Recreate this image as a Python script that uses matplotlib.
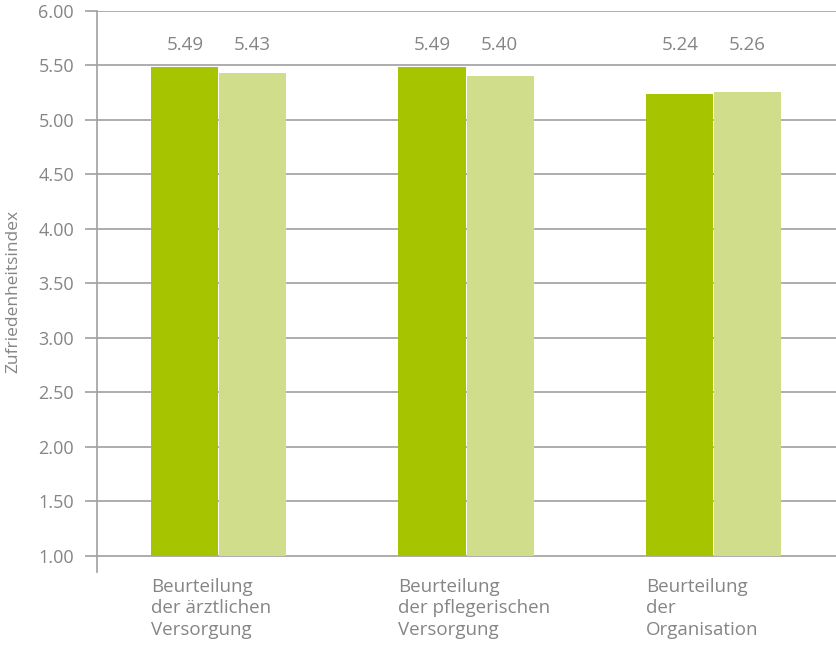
import matplotlib.pyplot as plt
import numpy as np

# Data
categories = ['Beurteilung\nder ärztlichen\nVersorgung',
              'Beurteilung\nder pflegerischen\nVersorgung',
              'Beurteilung\nder\nOrganisation']
series_a = [5.49, 5.49, 5.24]
series_b = [5.43, 5.40, 5.26]
yticks = [1.0, 1.5, 2.0, 2.5, 3.0, 3.5, 4.0, 4.5, 5.0, 5.5, 6.0]

plt.rcParams['font.family'] = ['Open Sans', 'DejaVu Sans']
gray = '#858585'
dark = '#A6C400'
light = '#D0DD8A'

fig = plt.figure(figsize=(8.36, 6.46), dpi=100)
ax = fig.add_axes([97 / 836, 1 - 572 / 646, 1 - 97 / 836, (572 - 11) / 646])

x = np.arange(len(categories))
w = 0.271
base = 1.0
ax.bar(x - w / 2 - 0.002, np.array(series_a) - base, w, bottom=base, color=dark, zorder=3)
ax.bar(x + w / 2 + 0.002, np.array(series_b) - base, w, bottom=base, color=light, zorder=3)

# value labels
for xi, a, b in zip(x, series_a, series_b):
    ax.text(xi - w / 2, 5.69, f'{a:.2f}', ha='center', va='center', color=gray, fontsize=13.5)
    ax.text(xi + w / 2, 5.69, f'{b:.2f}', ha='center', va='center', color=gray, fontsize=13.5)

ax.set_xlim(-0.491, 2.495)
ax.set_ylim(0.853, 6.0)
ax.set_yticks(yticks)
ax.set_yticklabels([f'{t:.2f}' for t in yticks])
ax.yaxis.grid(True, color='#a0a0a0', linewidth=1.2, zorder=0)
ax.tick_params(axis='y', length=8.6, width=1.2, color='#a0a0a0', labelcolor=gray,
               labelsize=13, pad=8)

ax.set_xticks(x - w - 0.002)
ax.set_xticklabels(categories, ha='left', multialignment='left', color=gray,
                   fontsize=13.5, linespacing=1.28)
ax.tick_params(axis='x', length=0, pad=4)

for s in ['top', 'right', 'bottom']:
    ax.spines[s].set_visible(False)
ax.spines['left'].set_color('#a0a0a0')
ax.spines['left'].set_linewidth(1.2)

ax.set_ylabel('Zufriedenheitsindex', color=gray, fontsize=12.5, labelpad=12)

fig.savefig('out.png', dpi=100)
